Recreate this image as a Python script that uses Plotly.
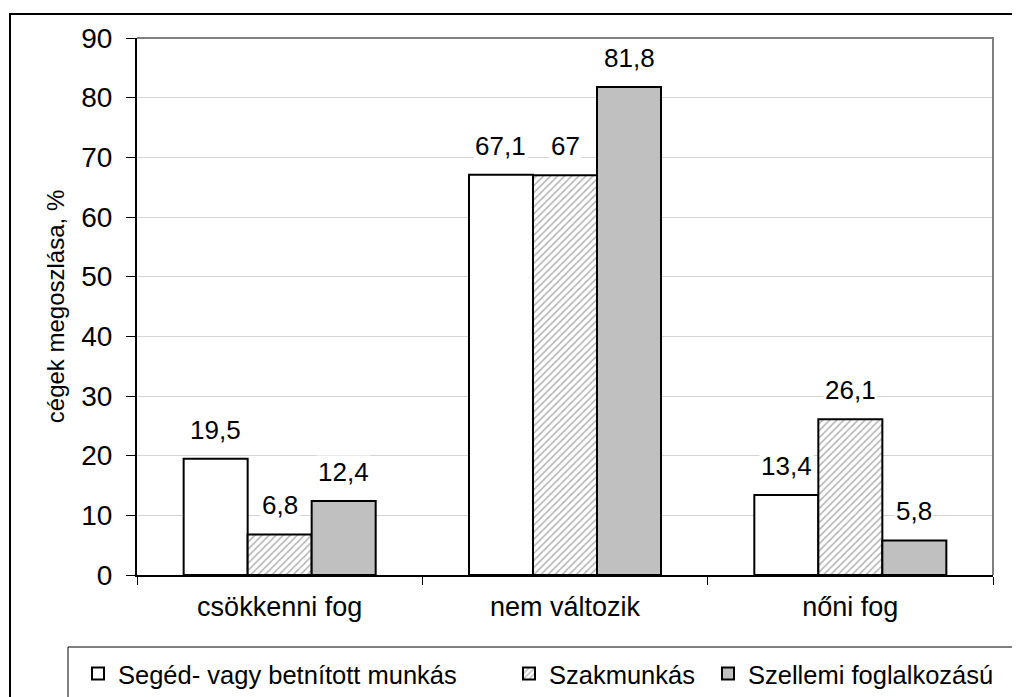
import plotly.graph_objects as go

categories = ["csökkenni fog", "nem változik", "nőni fog"]
series_names = ["Segéd- vagy betnított munkás", "Szakmunkás", "Szellemi foglalkozású"]
seged = [19.5, 67.1, 13.4]
szak = [6.8, 67.0, 26.1]
szellemi = [12.4, 81.8, 5.8]
y_ticks = [0, 10, 20, 30, 40, 50, 60, 70, 80, 90]

FONT = "Liberation Sans, Arial, sans-serif"
OFF = 8  # page body margin
W, H = 1020, 697
# target plot area in page pixels: x 137..993, y 38..575
L = 137 - OFF
T = 38 - OFF
R = W - (993 - OFF)
B = H - (575 - OFF)
PW, PH = W - L - R, H - T - B
BARGAP = 0.327

def px_x(x):  # page px -> paper
    return (x - OFF - L) / PW

def px_y(y):
    return (H - B - (y - OFF)) / PH

fig = go.Figure()
styles = [
    dict(color="#ffffff", line=dict(color="#000000", width=2)),
    dict(color="#ffffff", line=dict(color="#000000", width=2),
         pattern=dict(shape="/", fgcolor="#666666", bgcolor="#ffffff", size=5, solidity=0.3)),
    dict(color="#c0c0c0", line=dict(color="#000000", width=2)),
]
all_series = [seged, szak, szellemi]
legend_ids = ["legend", "legend2", "legend3"]
for name, vals, st, lg in zip(series_names, all_series, styles, legend_ids):
    fig.add_trace(go.Bar(x=categories, y=vals, name=name, marker=st, legend=lg))

def fmt(v):
    return f"{v:g}".replace(".", ",")

barw = (1 - BARGAP) / 3
annotations = []
for j, vals in enumerate(all_series):
    for i, v in enumerate(vals):
        annotations.append(dict(
            x=i + (j - 1) * barw, y=v, xref="x", yref="y",
            text=fmt(v), showarrow=False, yanchor="bottom", yshift=12,
            bgcolor="#ffffff", font=dict(family=FONT, size=26, color="#000000"),
            borderpad=1,
        ))

shapes = [
    dict(type="path", xref="paper", yref="paper", path="M 0,1 L 1,1 L 1,0",
         line=dict(color="#808080", width=2), layer="above"),
    dict(type="rect", xref="paper", yref="paper",
         x0=px_x(10), x1=px_x(1060), y0=px_y(760), y1=px_y(14),
         line=dict(color="#000000", width=2), fillcolor="rgba(0,0,0,0)"),
    dict(type="rect", xref="paper", yref="paper",
         x0=px_x(68), x1=px_x(1019), y0=px_y(750), y1=px_y(647),
         line=dict(color="#000000", width=1), fillcolor="rgba(0,0,0,0)"),
]

leg_common = dict(orientation="h", yanchor="middle", xanchor="left",
                  bgcolor="rgba(0,0,0,0)", borderwidth=0,
                  font=dict(family=FONT, size=25.5, color="#000000"),
                  itemwidth=30)
leg_y = px_y(674)

fig.update_layout(
    width=W, height=H,
    margin=dict(l=L, r=R, t=T, b=B, autoexpand=False),
    paper_bgcolor="#ffffff", plot_bgcolor="#ffffff",
    barmode="group", bargap=BARGAP, bargroupgap=0,
    font=dict(family=FONT, size=26, color="#000000"),
    showlegend=True,
    legend=dict(x=px_x(78), y=leg_y, **leg_common),
    legend2=dict(x=px_x(509), y=leg_y, **leg_common),
    legend3=dict(x=px_x(708), y=leg_y, **leg_common),
    xaxis=dict(type="category", showline=True, linecolor="#000000", linewidth=2,
               ticks="outside", tickson="boundaries", ticklen=8, tickcolor="#000000",
               showgrid=False, ticklabelstandoff=7,
               tickfont=dict(family=FONT, size=27, color="#000000")),
    yaxis=dict(range=[0, 90], tickvals=y_ticks, showline=True, linecolor="#000000",
               linewidth=2, ticks="outside", ticklen=9, tickcolor="#000000",
               showgrid=True, gridcolor="#d4d4d4", gridwidth=1, zeroline=False,
               ticklabelstandoff=8,
               tickfont=dict(family=FONT, size=28, color="#000000"),
               title=dict(text="cégek megoszlása, %", standoff=10,
                          font=dict(family=FONT, size=24, color="#000000"))),
    annotations=annotations,
    shapes=shapes,
)

fig.write_html("out.html")
